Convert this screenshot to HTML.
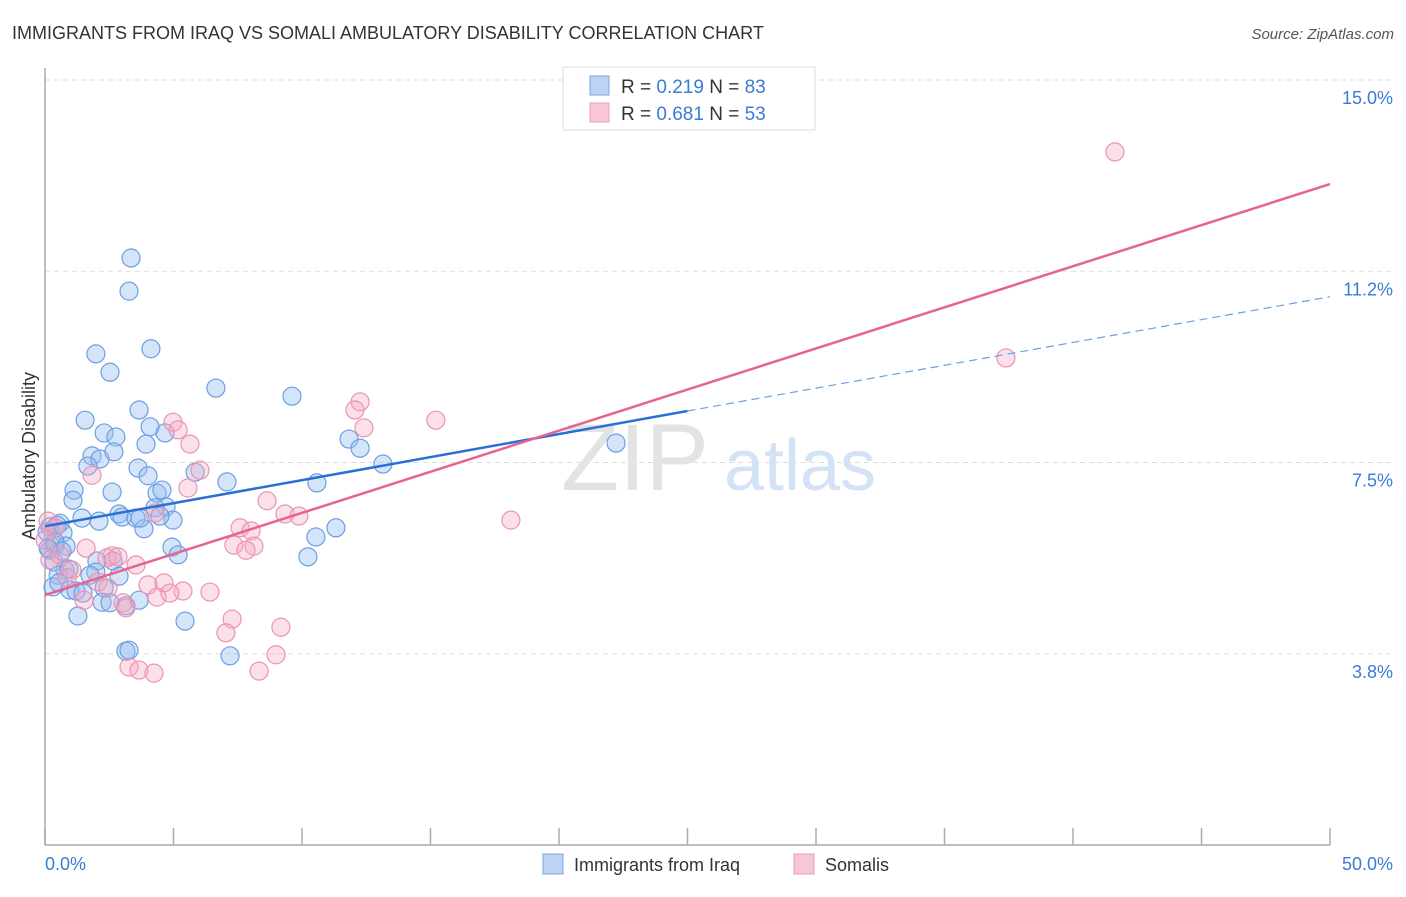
<!DOCTYPE html>
<html><head><meta charset="utf-8"><style>
body{margin:0;background:#fff;font-family:"Liberation Sans",sans-serif;}
svg text{font-family:"Liberation Sans",sans-serif;}
</style></head><body>
<svg width="1406" height="892" viewBox="0 0 1406 892">
<text x="12" y="39" font-size="18" fill="#333">IMMIGRANTS FROM IRAQ VS SOMALI AMBULATORY DISABILITY CORRELATION CHART</text>
<text x="1394" y="39" font-size="15" fill="#555" font-style="italic" text-anchor="end">Source: ZipAtlas.com</text>
<g id="grid"></g>
<g><text x="635" y="490" font-size="95" font-family="Liberation Serif" fill="#e3e3e3" text-anchor="middle">ZIP</text><text x="800" y="490" font-size="72" fill="#d3e2f5" text-anchor="middle">atlas</text></g>
<line x1="45" y1="68" x2="45" y2="845" stroke="#aaa" stroke-width="1.5"/>
<line x1="45" y1="845" x2="1330" y2="845" stroke="#aaa" stroke-width="1.5"/>
<g id="xticks"></g>
<text transform="translate(35,456) rotate(-90)" font-size="18" fill="#333" text-anchor="middle">Ambulatory Disability</text>
<text x="45" y="870" font-size="18" fill="#3a7bd5">0.0%</text>
<text x="1393" y="870" font-size="18" fill="#3a7bd5" text-anchor="end">50.0%</text>
<g id="pts"></g>
<g id="lines"></g>
<g>
<rect x="563" y="67" width="252" height="63" fill="#fff" stroke="#ddd"/>
<rect x="590" y="76" width="19" height="19" fill="#bcd4f4" stroke="#7aa6e0"/>
<rect x="590" y="103" width="19" height="19" fill="#f8c6d6" stroke="#eaa0b8"/>
<text x="621" y="93" font-size="19" fill="#333">R = <tspan fill="#3a7bd5">0.219</tspan>   N = <tspan fill="#3a7bd5">83</tspan></text>
<text x="621" y="120" font-size="19" fill="#333">R = <tspan fill="#3a7bd5">0.681</tspan>   N = <tspan fill="#3a7bd5">53</tspan></text>
</g>
<g>
<rect x="543" y="854" width="20" height="20" fill="#bcd4f4" stroke="#7aa6e0"/>
<text x="574" y="871" font-size="18" fill="#333">Immigrants from Iraq</text>
<rect x="794" y="854" width="20" height="20" fill="#f8c6d6" stroke="#eaa0b8"/>
<text x="825" y="871" font-size="18" fill="#333">Somalis</text>
</g>
</svg>
<script>
const yTicks=[15.0,11.25,7.5,3.75];
const yTickLabels=["15.0%","11.2%","7.5%","3.8%"];
const xTicks=[0,5,10,15,20,25,30,35,40,45,50];
const iraqX=[3.35,3.27,1.98,4.12,2.53,6.65,9.61,3.66,1.56,4.09,2.30,2.76,4.67,3.93,11.83,12.26,22.22,1.83,2.14,2.68,1.67,13.15,3.62,4.01,5.84,7.08,10.58,1.13,2.61,4.36,4.55,1.09,4.71,4.28,2.88,3.00,3.54,4.98,1.44,2.10,0.58,0.19,0.47,0.08,3.85,0.70,0.39,0.82,0.19,4.94,10.54,11.32,5.18,10.23,0.35,2.02,2.65,1.98,2.88,0.78,0.51,0.97,1.21,1.48,2.30,2.22,2.53,3.15,3.66,1.28,5.45,3.15,3.27,7.20,0.39,0.66,0.12,0.93,1.75,3.70,0.31,0.54,4.47];
const iraqY=[11.51,10.86,9.63,9.73,9.27,8.96,8.80,8.53,8.33,8.20,8.08,8.00,8.08,7.86,7.96,7.78,7.88,7.63,7.57,7.71,7.43,7.47,7.39,7.24,7.31,7.12,7.10,6.96,6.92,6.90,6.96,6.76,6.63,6.61,6.49,6.43,6.41,6.37,6.41,6.35,6.31,6.24,6.27,6.14,6.20,6.12,5.88,5.86,5.78,5.84,6.04,6.22,5.69,5.65,5.55,5.57,5.57,5.35,5.27,5.39,5.29,5.00,4.98,4.94,5.04,4.76,4.75,4.69,4.80,4.49,4.39,3.80,3.82,3.71,5.94,5.76,5.82,5.41,5.29,6.41,5.06,5.14,6.45];
const somaliX=[41.63,37.39,15.21,12.26,12.06,12.41,4.98,5.18,5.64,6.03,1.83,5.56,8.64,7.59,8.02,9.34,9.88,7.35,8.13,7.82,18.13,4.28,2.61,3.54,0.12,0.39,1.60,2.41,2.84,1.05,0.86,2.06,2.45,4.01,4.63,5.37,6.42,4.36,4.86,1.52,3.04,3.15,7.28,7.04,9.18,8.99,3.27,3.66,4.24,8.33,0.00,0.19,0.58];
const somaliY=[13.59,9.55,8.33,8.69,8.53,8.18,8.29,8.14,7.86,7.35,7.25,7.00,6.75,6.22,6.16,6.49,6.45,5.88,5.86,5.78,6.37,6.51,5.67,5.49,6.35,6.22,5.82,5.63,5.65,5.39,5.24,5.16,5.04,5.10,5.14,4.98,4.96,4.86,4.94,4.80,4.75,4.65,4.43,4.16,4.27,3.73,3.49,3.43,3.37,3.41,5.98,5.59,5.69];
const iraqTrend=[6.25,8.51,10.75]; // at x=0,25,50
const somaliTrend=[4.90,12.96]; // at x=0,50
const NS="http://www.w3.org/2000/svg";
const X=v=>45+v*25.7, Y=v=>80+(15-v)*51.0;
function mk(tag,attrs,parent){const e=document.createElementNS(NS,tag);for(const k in attrs)e.setAttribute(k,attrs[k]);parent.appendChild(e);return e;}
const grid=document.getElementById('grid');
yTicks.forEach((t,i)=>{
 const l=mk('line',{x1:45,x2:1395,y1:Y(t),y2:Y(t),stroke:'#ddd','stroke-dasharray':'5,4'},grid);
 
 
 const tx=mk('text',{x:1393,y:Y(t)+24,'font-size':18,fill:'#3a7bd5','text-anchor':'end'},grid);
 tx.textContent=yTickLabels[i];
 
 
});
const xt=document.getElementById('xticks');
xTicks.forEach(t=>{const l=mk('line',{x1:X(t),x2:X(t),y1:828,y2:845,stroke:'#aaa','stroke-width':1.5},xt);
 
 });
const pts=document.getElementById('pts');
iraqX.forEach((x,i)=>{const c=mk('circle',{cx:X(x),cy:Y(iraqY[i]),r:9,fill:'rgba(150,190,240,0.4)',stroke:'#6b9fe2','stroke-width':1.2},pts);
 
 });
somaliX.forEach((x,i)=>{const c=mk('circle',{cx:X(x),cy:Y(somaliY[i]),r:9,fill:'rgba(245,165,192,0.35)',stroke:'#eb93b0','stroke-width':1.2},pts);
 
 });
const ln=document.getElementById('lines');
let a=mk('line',{x1:X(0),y1:Y(iraqTrend[0]),x2:X(25),y2:Y(iraqTrend[1]),stroke:'#2a6fd6','stroke-width':2.5},ln);


let b=mk('line',{x1:X(25),y1:Y(iraqTrend[1]),x2:X(50),y2:Y(iraqTrend[2]),stroke:'#6b9fe2','stroke-width':1.2,'stroke-dasharray':'8,5'},ln);


let c=mk('line',{x1:X(0),y1:Y(somaliTrend[0]),x2:X(50),y2:Y(somaliTrend[1]),stroke:'#e8638f','stroke-width':2.5},ln);


</script>
</body></html>
